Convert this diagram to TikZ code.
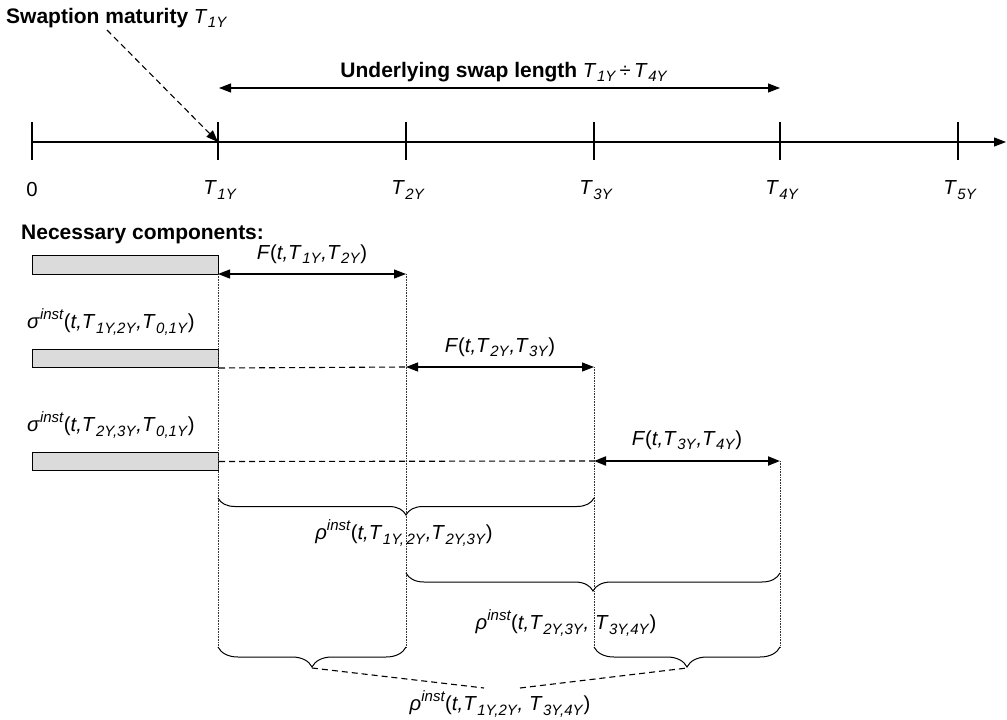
\documentclass[tikz,border=0pt]{standalone}
\usepackage{fontspec}
\setmainfont{Liberation Sans}
\usetikzlibrary{arrows.meta,decorations.pathreplacing}
\newcommand{\subsz}[1]{\raisebox{-0.22em}{\fontsize{15}{15}\selectfont\textit{#1}}}
\newcommand{\supsz}[1]{\raisebox{0.45em}{\fontsize{15}{15}\selectfont\textit{#1}}}
\newcommand{\Tt}[1]{\textit{T}\kern0.5pt\subsz{#1}}
\newcommand{\sigi}{\textit{σ}\supsz{inst}}
\newcommand{\rhoi}{\textit{ρ}\supsz{inst}}
\newcommand{\bigbf}[1]{{\fontsize{21}{24}\selectfont\textbf{#1}}}
\begin{document}
\begin{tikzpicture}[x=1pt,y=-1pt,
  font=\fontsize{20.3}{23}\selectfont,
  lbl/.style={inner sep=0pt},
  axisline/.style={line width=1.1pt,-{Triangle[length=12pt,width=9pt]}},
  tickline/.style={line width=1.1pt},
  dblarrow/.style={line width=1.1pt,{Triangle[length=12pt,width=9pt]}-{Triangle[length=12pt,width=9pt]}},
  guide/.style={densely dotted,line width=0.6pt,black!80},
  dashline/.style={dash pattern=on 6pt off 4pt,line width=1.1pt},
  bar/.style={draw,line width=1pt,fill=black!14},
  bracedown/.style={line width=1pt,decorate,decoration={brace,mirror,amplitude=#1}}
]
\useasboundingbox (0,0) rectangle (1007,720);

% axis
\coordinate (a0) at (32,142);
\coordinate (aend) at (1006,142);
\coordinate (t1) at (218,142);
\coordinate (t2) at (406,142);
\coordinate (t3) at (594,142);
\coordinate (t4) at (780,142);
\coordinate (t5) at (958,142);
\draw[axisline] (a0) -- (aend);
\foreach \n in {a0,t1,t2,t3,t4,t5}{
  \draw[tickline] ([yshift=-18pt]\n) -- ([yshift=20pt]\n);
}
\node[lbl] (l0) at (32,190) {0};
\node[lbl] (l1) at (220,190) {\Tt{1Y}};
\node[lbl] (l2) at (408,190) {\Tt{2Y}};
\node[lbl] (l3) at (596,190) {\Tt{3Y}};
\node[lbl] (l4) at (782,190) {\Tt{4Y}};
\node[lbl] (l5) at (960,190) {\Tt{5Y}};

% title
\node[lbl,anchor=west] (title) at (6,18) {\bigbf{Swaption maturity} \Tt{1Y}};
\coordinate (tstart) at (107,30);
\draw[dashline,-{Triangle[length=12pt,width=9pt]}] (tstart) -- (t1);

% underlying swap
\coordinate (u1) at (219,88);
\coordinate (u4) at (780,88);
\draw[dblarrow] (u1) -- (u4);
\node[lbl] (ulabel) at (504,72) {\bigbf{Underlying swap length} \Tt{1Y}\,÷\,\Tt{4Y}};

% components
\node[lbl,anchor=west] (nec) at (21,234) {\bigbf{Necessary components:}};

\node[bar,minimum width=186pt,minimum height=19pt,inner sep=0pt,anchor=north west] (bar1) at (32,255) {};
\node[bar,minimum width=186pt,minimum height=18pt,inner sep=0pt,anchor=north west] (bar2) at (32,349) {};
\node[bar,minimum width=186pt,minimum height=18pt,inner sep=0pt,anchor=north west] (bar3) at (32,452) {};

\node[lbl,anchor=west] (sig1) at (27,322) {\sigi(\textit{t,}\Tt{1Y,2Y}\textit{,}\Tt{0,1Y})};
\node[lbl,anchor=west] (sig2) at (27,425) {\sigi(\textit{t,}\Tt{2Y,3Y}\textit{,}\Tt{0,1Y})};

% F arrows
\coordinate (f1a) at (218,274);
\coordinate (f1b) at (406,274);
\draw[dblarrow] (f1a) -- (f1b);
\node[lbl] (F1) at (312,254) {\textit{F}(\textit{t,}\Tt{1Y}\textit{,}\Tt{2Y})};

\coordinate (f2a) at (406,367);
\coordinate (f2b) at (594,367);
\draw[dashline] (bar2.south east) -- (f2a);
\draw[dblarrow] (f2a) -- (f2b);
\node[lbl] (F2) at (500,347) {\textit{F}(\textit{t,}\Tt{2Y}\textit{,}\Tt{3Y})};

\coordinate (f3a) at (594,461);
\coordinate (f3b) at (780,461);
\draw[dashline] (bar3.east) -- (f3a);
\draw[dblarrow,line width=2pt] (f3a) -- (f3b);
\node[lbl] (F3) at (687,440) {\textit{F}(\textit{t,}\Tt{3Y}\textit{,}\Tt{4Y})};

% guides
\coordinate (g1) at (218,648);
\coordinate (g2) at (406,648);
\coordinate (g3) at (594,648);
\coordinate (g4) at (780,648);
\draw[guide] (f1a) -- (g1);
\draw[guide] (f1b) -- (g2);
\draw[guide] (f2b) -- (g3);
\draw[guide] (f3b) -- (g4);

% braces
\coordinate (b1l) at (218,498);
\coordinate (b1r) at (594,498);
\draw[bracedown=17pt] (b1l) -- (b1r);
\node[lbl] (rho1) at (404,533) {\rhoi(\textit{t,}\Tt{1Y,\,2Y}\textit{,}\Tt{2Y,3Y})};

\coordinate (b2l) at (406,573);
\coordinate (b2r) at (780,573);
\draw[bracedown=18pt] (b2l) -- (b2r);
\node[lbl] (rho2) at (566,623) {\rhoi(\textit{t,}\Tt{2Y,3Y}\textit{,} \Tt{3Y,4Y})};

\coordinate (b3l) at (218,647);
\coordinate (b3r) at (406,647);
\draw[bracedown=20pt] (b3l) -- (b3r);
\coordinate (b4l) at (594,647);
\coordinate (b4r) at (780,647);
\draw[bracedown=20pt] (b4l) -- (b4r);

\coordinate (tip3) at (312,668);
\coordinate (tip4) at (687,668);
\coordinate (m3) at (484,688);
\coordinate (m4) at (520,688);
\draw[dashline] (tip3) -- (m3);
\draw[dashline] (m4) -- (tip4);
\node[lbl] (rho3) at (500,704) {\rhoi(\textit{t,}\Tt{1Y,2Y}\textit{,} \Tt{3Y,4Y})};
\end{tikzpicture}
\end{document}
